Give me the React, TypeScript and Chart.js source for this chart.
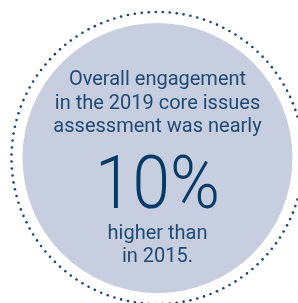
import React, { useEffect, useRef } from "react";
import { Chart, registerables } from "chart.js";

Chart.register(...registerables);

const categories = ["Overall engagement"];
const values = [1];
const headLines = ["Overall engagement", "in the 2019 core issues", "assessment was nearly"];
const bigValue = "10%";
const tailLines = ["higher than", "in 2015."];

const FILL = "#c7cee0";
const TEXT = "#1f4a74";
const BIG = "#063b68";
const FONT = "Roboto, 'DejaVu Sans', sans-serif";

const ringPlugin = {
  id: "ringAndText",
  afterDatasetsDraw(chart: any) {
    const arc = chart.getDatasetMeta(0).data[0];
    if (!arc) return;
    const { x, y, outerRadius } = arc.getProps(["x", "y", "outerRadius"], true);
    const ctx = chart.ctx;
    ctx.save();
    // dotted ring
    const R = outerRadius + 11;
    const n = Math.round((2 * Math.PI * R) / 7);
    ctx.fillStyle = "#1a4677";
    for (let i = 0; i < n; i++) {
      const a = (i / n) * 2 * Math.PI;
      ctx.beginPath();
      ctx.arc(x + R * Math.cos(a), y + R * Math.sin(a), 1.3, 0, 2 * Math.PI);
      ctx.fill();
    }
    // text
    ctx.textAlign = "center";
    ctx.textBaseline = "alphabetic";
    ctx.fillStyle = TEXT;
    ctx.font = `400 20px ${FONT}`;
    headLines.forEach((t, i) => ctx.fillText(t, x, y - 73 + i * 23.5));
    ctx.save();
    ctx.translate(x, y + 50);
    ctx.scale(0.9, 1);
    ctx.fillStyle = BIG;
    ctx.font = `300 75px ${FONT}`;
    ctx.fillText(bigValue, 0, 0);
    ctx.restore();
    ctx.fillStyle = TEXT;
    ctx.font = `400 20px ${FONT}`;
    tailLines.forEach((t, i) => ctx.fillText(t, x, y + 81 + i * 23));
    ctx.restore();
  },
};

export default function App() {
  const ref = useRef<HTMLCanvasElement>(null);
  useEffect(() => {
    if (!ref.current) return;
    const chart = new Chart(ref.current, {
      type: "pie",
      data: {
        labels: categories,
        datasets: [
          {
            data: values,
            backgroundColor: [FILL],
            borderWidth: 0,
          },
        ],
      },
      options: {
        responsive: false,
        animation: false,
        layout: { padding: { left: 22.5, right: 5.5, top: 23, bottom: 10 } },
        plugins: { legend: { display: false }, tooltip: { enabled: false } },
      },
      plugins: [ringPlugin],
    });
    return () => chart.destroy();
  }, []);
  return (
    <div style={{ position: "fixed", left: 0, top: 0, width: 298, height: 303, background: "#fff" }}>
      <canvas ref={ref} width={298} height={303} />
    </div>
  );
}
